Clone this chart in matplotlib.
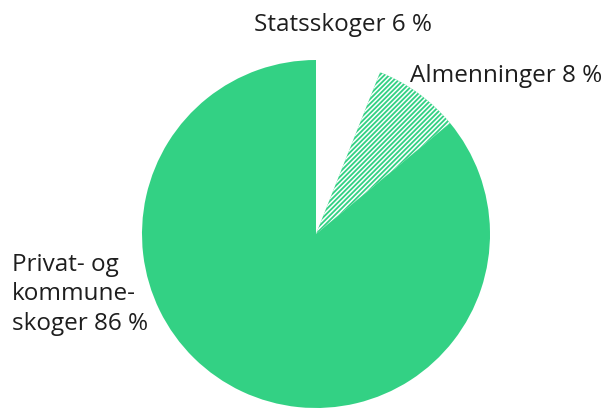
import matplotlib.pyplot as plt

plt.rcParams['font.family'] = ['Open Sans', 'DejaVu Sans']
plt.rcParams['hatch.linewidth'] = 1.1

# data
labels = ["Statsskoger 6 %", "Almenninger 8 %", "Privat- og\nkommune-\nskoger 86 %"]
shares = [6, 8, 86]
green = "#33d184"

fig = plt.figure(figsize=(6.14, 4.12), dpi=100)
ax = fig.add_axes([0, 0, 1, 1])

wedges, _ = ax.pie(shares, center=(316, 178), radius=174, startangle=90,
                   counterclock=False, colors=["white", green, green],
                   wedgeprops=dict(linewidth=0), frame=True)
ax.set_xlim(0, 614)
ax.set_ylim(0, 412)
ax.axis("off")

# hatched slice, white lines on green
wedges[1].set_edgecolor("white")
wedges[1].set_linewidth(0)
wedges[1].set_hatch("///////")

fs = 17.5
tc = "#1e1e1e"
ax.text(254, 381, labels[0], ha="left", va="baseline", fontsize=fs, color=tc)
ax.text(410, 330, labels[1], ha="left", va="baseline", fontsize=fs, color=tc)
for i, line in enumerate(labels[2].split("\n")):
    ax.text(12, 141 - i * 29.5, line, ha="left", va="baseline", fontsize=fs, color=tc)

fig.savefig("out.png", dpi=100)
